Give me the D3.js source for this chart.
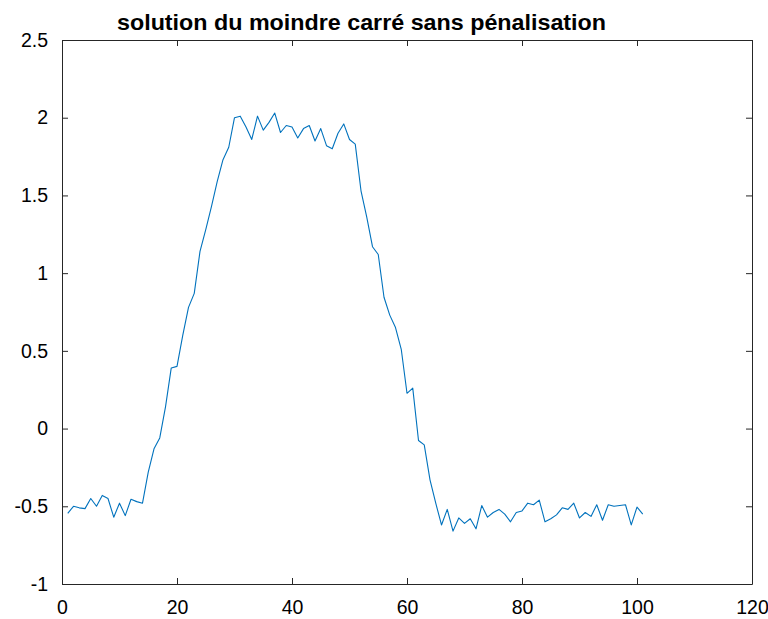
<!DOCTYPE html>
<html>
<head>
<meta charset="utf-8">
<script src="https://cdn.jsdelivr.net/npm/d3@7"></script>
<style>
  html, body { margin: 0; padding: 0; background: #fff; }
  svg { display: block; font-family: "Liberation Sans", Arial, Helvetica, sans-serif; }
</style>
</head>
<body>
<svg id="chart" width="768" height="619"></svg>
<script>
// Least-squares solution values at sample indices 1..101
const sampleIndex = d3.range(1, 102);
const solution = [
  -0.545, -0.50, -0.51, -0.515, -0.45, -0.50, -0.43, -0.45, -0.57, -0.48,
  -0.56, -0.455, -0.47, -0.48, -0.28, -0.13, -0.06, 0.14, 0.39, 0.40,
  0.60, 0.78, 0.87, 1.14, 1.28, 1.43, 1.59, 1.73, 1.81, 2.00,
  2.01, 1.94, 1.86, 2.01, 1.92, 1.97, 2.03, 1.905, 1.95, 1.94,
  1.87, 1.93, 1.95, 1.85, 1.93, 1.82, 1.80, 1.90, 1.96, 1.86,
  1.83, 1.53, 1.36, 1.17, 1.12, 0.845, 0.73, 0.65, 0.51, 0.227,
  0.26, -0.077, -0.105, -0.33, -0.48, -0.62, -0.52, -0.66, -0.575, -0.61,
  -0.58, -0.645, -0.495, -0.57, -0.54, -0.52, -0.55, -0.60, -0.54, -0.53,
  -0.48, -0.49, -0.46, -0.60, -0.58, -0.555, -0.51, -0.52, -0.48, -0.575,
  -0.54, -0.565, -0.49, -0.59, -0.49, -0.50, -0.495, -0.49, -0.62, -0.505,
  -0.55
];
const xTicks = [0, 20, 40, 60, 80, 100, 120];
const yTicks = [-1, -0.5, 0, 0.5, 1, 1.5, 2, 2.5];
const titleText = "solution du moindre carré sans pénalisation";

const svg = d3.select("#chart");
const plotLeft = 62, plotRight = 752, plotTop = 40, plotBottom = 584;
const axisColor = "#262626";

const x = d3.scaleLinear().domain([0, 120]).range([plotLeft, plotRight]);
const y = d3.scaleLinear().domain([-1, 2.5]).range([plotBottom, plotTop]);

// Bottom axis with inward ticks
const gx = svg.append("g").attr("transform", `translate(0,${plotBottom})`)
  .call(d3.axisBottom(x).tickValues(xTicks).tickSizeInner(-6).tickSizeOuter(0).tickPadding(16).tickFormat(d3.format("d")));
// Left axis with inward ticks
const gy = svg.append("g").attr("transform", `translate(${plotLeft},0)`)
  .call(d3.axisLeft(y).tickValues(yTicks).tickSizeInner(-6).tickSizeOuter(0).tickPadding(14).tickFormat(d => String(d)));
// Top and right mirrored ticks, no labels
const gt = svg.append("g").attr("transform", `translate(0,${plotTop})`)
  .call(d3.axisTop(x).tickValues(xTicks).tickSizeInner(-6).tickSizeOuter(0).tickFormat(""));
const gr = svg.append("g").attr("transform", `translate(${plotRight},0)`)
  .call(d3.axisRight(y).tickValues(yTicks).tickSizeInner(-6).tickSizeOuter(0).tickFormat(""));

[gx, gy, gt, gr].forEach(g => {
  g.selectAll(".domain").attr("stroke", axisColor).attr("stroke-width", 1);
  g.selectAll(".tick line").attr("stroke", axisColor).attr("stroke-width", 1);
  g.selectAll(".tick text").attr("fill", "#000").style("font-size", "19.5px")
    .style("font-family", '"Liberation Sans", Arial, sans-serif');
});

// Data line
const line = d3.line().x((d, i) => x(sampleIndex[i])).y(d => y(d));
svg.append("path")
  .datum(solution)
  .attr("fill", "none")
  .attr("stroke", "#0072BD")
  .attr("stroke-width", 1.1)
  .attr("stroke-linejoin", "round")
  .attr("d", line);

// Title
svg.append("text")
  .attr("x", 361.5)
  .attr("y", 30)
  .attr("text-anchor", "middle")
  .style("font-size", "22px")
  .style("font-weight", "bold")
  .attr("textLength", 489)
  .attr("lengthAdjust", "spacingAndGlyphs")
  .attr("fill", "#000")
  .text(titleText);
</script>
</body>
</html>
